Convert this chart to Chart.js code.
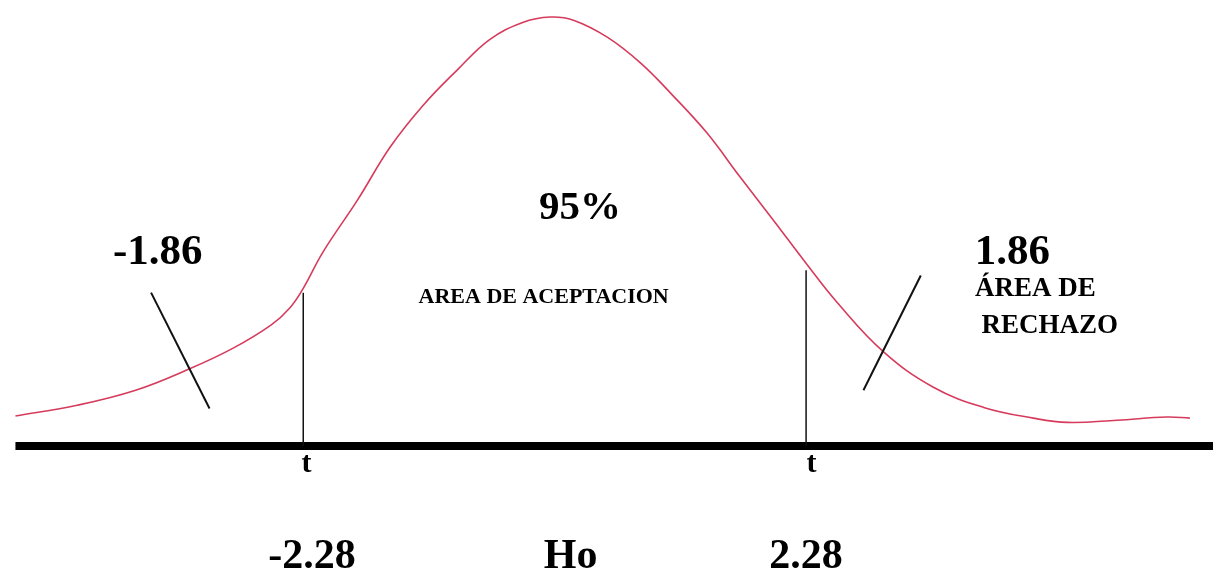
<!DOCTYPE html>
<html>
<head>
<meta charset="utf-8">
<script src="https://cdn.jsdelivr.net/npm/chart.js@4/dist/chart.umd.min.js"></script>
<style>
  html, body { margin: 0; padding: 0; background: #fff; }
  #wrap { width: 1213px; height: 575px; }
</style>
</head>
<body>
<div id="wrap"><canvas id="chart" width="1213" height="575"></canvas></div>
<script>
// curve: t value and height above the axis
const curveT = [-4.89, -4.33, -3.80, -3.31, -2.92, -2.57, -2.40, -2.28, -2.10, -1.79,
  -1.49, -1.19, -0.88, -0.59, -0.29, -0.04, 0.17, 0.48, 0.78, 1.07, 1.38, 1.68,
  1.98, 2.29, 2.56, 2.98, 3.43, 3.89, 4.34, 4.65, 5.10, 5.55, 5.76];
const curveY = [0.028, 0.038, 0.052, 0.072, 0.091, 0.113, 0.129, 0.147, 0.181, 0.229,
  0.279, 0.318, 0.351, 0.379, 0.395, 0.400, 0.397, 0.381, 0.357, 0.327, 0.292, 0.251,
  0.211, 0.169, 0.134, 0.088, 0.055, 0.036, 0.026, 0.022, 0.024, 0.027, 0.026];

const criticalT = [-2.28, 2.28];
const criticalTop = [0.143, 0.164];

const axisStart = -4.89;
const axisEnd = 5.97;

// pointer strokes from the labels to the tails
const leftPointer = [{ x: -3.66, y: 0.143 }, { x: -3.13, y: 0.035 }];
const rightPointer = [{ x: 3.32, y: 0.159 }, { x: 2.80, y: 0.052 }];

const labels = [
  { text: '-1.86', x: -3.60, y: 0.180, size: 43 },
  { text: '95%', x: 0.23, y: 0.222, size: 41 },
  { text: 'AREA DE ACEPTACION', x: -0.10, y: 0.139, size: 22 },
  { text: '1.86', x: 4.15, y: 0.180, size: 43 },
  { text: 'ÁREA DE', x: 4.36, y: 0.146, size: 27 },
  { text: 'RECHAZO', x: 4.49, y: 0.112, size: 27 },
  { text: 't', x: -2.25, y: -0.017, size: 30 },
  { text: 't', x: 2.33, y: -0.017, size: 30 },
  { text: '-2.28', x: -2.20, y: -0.104, size: 42 },
  { text: 'Ho', x: 0.145, y: -0.104, size: 42 },
  { text: '2.28', x: 2.28, y: -0.104, size: 42 }
];

const textPlugin = {
  id: 'textLabels',
  afterDatasetsDraw(chart) {
    const { ctx, scales } = chart;
    ctx.save();
    ctx.fillStyle = '#000';
    ctx.textAlign = 'center';
    ctx.textBaseline = 'middle';
    labels.forEach(l => {
      ctx.font = `bold ${l.size}px "Liberation Serif", "Times New Roman", serif`;
      ctx.fillText(l.text, scales.x.getPixelForValue(l.x), scales.y.getPixelForValue(l.y));
    });
    ctx.restore();
  }
};

const line = (data, color, width) => ({
  data,
  borderColor: color,
  borderWidth: width,
  pointRadius: 0,
  fill: false,
  showLine: true
});

const datasets = criticalT.map((t, i) => line([{ x: t, y: 0 }, { x: t, y: criticalTop[i] }], '#111', 1.5));
datasets.push(line(leftPointer, '#111', 2));
datasets.push(line(rightPointer, '#111', 2));
datasets.push(line([{ x: axisStart, y: 0 }, { x: axisEnd, y: 0 }], '#000', 8));
datasets.push(Object.assign(line(curveT.map((t, i) => ({ x: t, y: curveY[i] })), '#d63b5c', 1.6), {
  tension: 0.4
}));

new Chart(document.getElementById('chart'), {
  type: 'scatter',
  data: { datasets },
  options: {
    responsive: false,
    animation: false,
    devicePixelRatio: 1,
    layout: { padding: 0 },
    scales: {
      x: { type: 'linear', display: false, min: -5.03, max: 5.97 },
      y: { type: 'linear', display: false, min: -0.1203, max: 0.4159 }
    },
    plugins: {
      legend: { display: false },
      tooltip: { enabled: false }
    }
  },
  plugins: [textPlugin]
});
</script>
</body>
</html>
